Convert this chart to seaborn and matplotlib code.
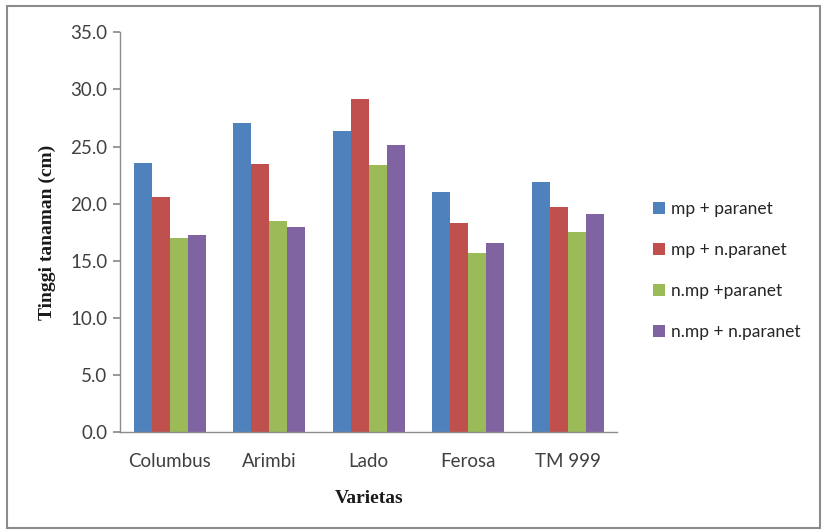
import matplotlib
matplotlib.use("Agg")
import matplotlib.pyplot as plt
import seaborn as sns
import pandas as pd
from matplotlib.patches import Rectangle

varietas = ["Columbus", "Arimbi", "Lado", "Ferosa", "TM 999"]
perlakuan = ["mp + paranet", "mp + n.paranet", "n.mp +paranet", "n.mp + n.paranet"]
mp_paranet = [23.6, 27.1, 26.4, 21.0, 21.9]
mp_n_paranet = [20.6, 23.5, 29.2, 18.3, 19.7]
nmp_paranet = [17.0, 18.5, 23.4, 15.7, 17.5]
nmp_n_paranet = [17.3, 18.0, 25.1, 16.6, 19.1]
yticks = [0, 5, 10, 15, 20, 25, 30, 35]

colors = ["#4F81BD", "#C0504D", "#9BBB59", "#8064A2"]

series = [mp_paranet, mp_n_paranet, nmp_paranet, nmp_n_paranet]
df = pd.DataFrame(
    [(v, p, val) for p, vals in zip(perlakuan, series) for v, val in zip(varietas, vals)],
    columns=["Varietas", "Perlakuan", "Tinggi"],
)

sns.set_theme(style="white")
plt.rcParams["font.family"] = ["Lato", "DejaVu Sans"]

fig = plt.figure(figsize=(8.22, 5.30), dpi=100)
ax = fig.add_axes([0.146, 0.1843, 0.605, 0.7547])

sns.barplot(
    data=df, x="Varietas", y="Tinggi", hue="Perlakuan",
    order=varietas, hue_order=perlakuan, palette=colors,
    width=0.725, gap=0, saturation=1, errorbar=None, ax=ax,
    linewidth=0,
)

ax.set_ylim(0, 35)
ax.set_xlim(-0.5, len(varietas) - 0.5)
ax.set_yticks(yticks)
ax.set_yticklabels([f"{t:.1f}" for t in yticks])
for s in ["top", "right"]:
    ax.spines[s].set_visible(False)
for s in ["left", "bottom"]:
    ax.spines[s].set_color("#8c8c8c")
    ax.spines[s].set_linewidth(1)
ax.tick_params(axis="y", which="both", left=True, length=5, color="#8c8c8c",
               labelsize=13.5, labelcolor="#404040", pad=4)
ax.tick_params(axis="x", bottom=False, labelsize=13.5, labelcolor="#404040", pad=9)

ax.set_xlabel("Varietas", fontsize=14, fontweight="bold",
              family=["Liberation Serif", "DejaVu Serif"], color="#1a1a1a", labelpad=14)
ax.set_ylabel("Tinggi tanaman (cm)", fontsize=14, fontweight="bold",
              family=["Liberation Serif", "DejaVu Serif"], color="#1a1a1a", labelpad=10)

leg = ax.legend(
    loc="center left", bbox_to_anchor=(1.04, 0.404), frameon=False,
    fontsize=12.5, handlelength=0.7, handleheight=0.7, handletextpad=0.35,
    labelspacing=1.43, title=None,
)
for t in leg.get_texts():
    t.set_color("#262626")

# chart frame
fig.patches.append(Rectangle((0.009, 0.004), 0.988, 0.985, transform=fig.transFigure,
                             fill=False, edgecolor="#8c8c8c", linewidth=1.5))

fig.savefig("out.png", dpi=100)
